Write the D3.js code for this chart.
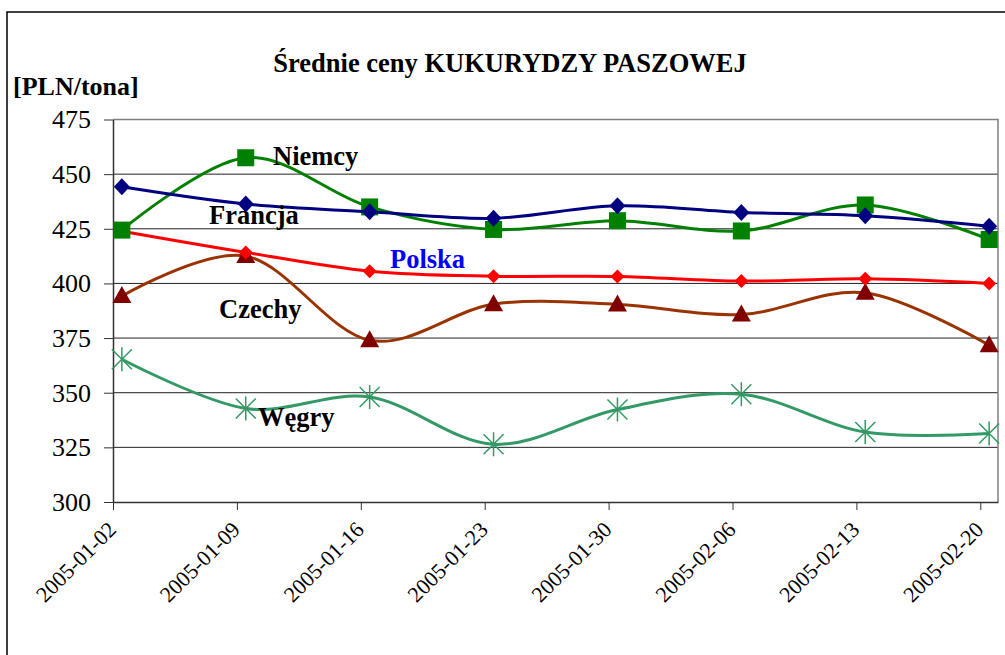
<!DOCTYPE html>
<html>
<head>
<meta charset="utf-8">
<script src="https://cdn.jsdelivr.net/npm/d3@7"></script>
<style>
  body { margin: 0; background: #fff; }
  text { font-family: "Liberation Serif", "Times New Roman", serif; }
</style>
</head>
<body>
<script>
// weekly dates
const dates = ["2005-01-02", "2005-01-09", "2005-01-16", "2005-01-23",
               "2005-01-30", "2005-02-06", "2005-02-13", "2005-02-20"];
const yTicks = [300, 325, 350, 375, 400, 425, 450, 475];

const francja = [444.2, 436.3, 432.8, 429.8, 435.5, 432.5, 431.0, 426.2];
const niemcy  = [424.4, 457.5, 435.0, 424.7, 428.7, 424.0, 435.9, 420.1];
const polska  = [423.9, 414.2, 405.6, 403.3, 403.2, 401.1, 402.1, 400.0];
const czechy  = [394.2, 412.5, 374.0, 390.5, 390.4, 385.8, 395.7, 371.7];
const wegry   = [365.3, 342.8, 348.0, 326.4, 342.3, 349.3, 332.0, 331.3];

const parse = d3.timeParse("%Y-%m-%d");
const fmt = d3.timeFormat("%Y-%m-%d");
const days = dates.map(parse);

const W = 1005, H = 655;
const pLeft = 113, pRight = 998, pTop = 119.5, pBottom = 502;

const svg = d3.select("body").append("svg")
  .attr("width", W).attr("height", H);

// outer frame
svg.append("path")
  .attr("d", `M7,${H} L7,12 L${W},12`)
  .attr("fill", "none").attr("stroke", "#000").attr("stroke-width", 1.5);

// date axis, one slot per day, points in the middle of their day
const x = d3.scaleTime()
  .domain([days[0], d3.timeDay.offset(days[days.length - 1], 1)])
  .range([pLeft, pRight]);
const mid = d => x(d3.timeHour.offset(d, 12));

const y = d3.scaleLinear().domain([300, 475]).range([pBottom, pTop]);

// gridlines
svg.append("g").selectAll("line")
  .data(yTicks.slice(1))
  .enter().append("line")
    .attr("x1", pLeft).attr("x2", pRight)
    .attr("y1", d => y(d)).attr("y2", d => y(d))
    .attr("stroke", "#222").attr("stroke-width", 1);

// plot border (top/right gray)
svg.append("path")
  .attr("d", `M${pLeft},${pTop} L${pRight},${pTop} L${pRight},${pBottom}`)
  .attr("fill", "none").attr("stroke", "#808080").attr("stroke-width", 1.5);

// y axis
const yAxis = svg.append("g")
  .attr("transform", `translate(${pLeft},0)`)
  .call(d3.axisLeft(y).tickValues(yTicks).tickSize(9).tickSizeOuter(0).tickPadding(13));
yAxis.attr("font-family", null);
yAxis.select(".domain").attr("stroke", "#333").attr("stroke-width", 1.5);
yAxis.selectAll(".tick line").attr("stroke", "#333");
yAxis.selectAll(".tick text")
  .attr("font-size", 26).attr("fill", "#000");

// x axis
const xAxis = svg.append("g")
  .attr("transform", `translate(0,${pBottom})`)
  .call(d3.axisBottom(x).tickValues(days).tickFormat(fmt).tickSize(8).tickSizeOuter(0));
xAxis.attr("font-family", null);
xAxis.select(".domain").attr("stroke", "#333").attr("stroke-width", 1.5);
xAxis.selectAll(".tick line").attr("stroke", "#333");
xAxis.selectAll(".tick text")
  .attr("font-size", 22).attr("fill", "#000")
  .attr("text-anchor", "end")
  .attr("dy", null).attr("y", 0)
  .attr("transform", "translate(4,29) rotate(-45)");

const series = [
  { name: "Francja", values: francja, line: "#000080", marker: "#000080", shape: "diamond" },
  { name: "Niemcy",  values: niemcy,  line: "#008000", marker: "#008000", shape: "square" },
  { name: "Polska",  values: polska,  line: "#ff0000", marker: "#ff0000", shape: "diamondSmall" },
  { name: "Czechy",  values: czechy,  line: "#993300", marker: "#800000", shape: "triangle" },
  { name: "Węgry",   values: wegry,   line: "#339966", marker: "#339966", shape: "star" }
];

const line = d3.line()
  .x((d, i) => mid(days[i]))
  .y(d => y(d))
  .curve(d3.curveCatmullRom.alpha(0));

const order = ["Węgry", "Czechy", "Polska", "Niemcy", "Francja"];
order.forEach(n => {
  const s = series.find(t => t.name === n);
  const g = svg.append("g");
  g.append("path")
    .attr("d", line(s.values))
    .attr("fill", "none").attr("stroke", s.line).attr("stroke-width", 3);

  const pts = g.selectAll("g.pt").data(s.values).enter().append("g")
    .attr("transform", (d, i) => `translate(${mid(days[i])},${y(d)})`);

  if (s.shape === "diamond") {
    pts.append("path").attr("d", "M0,-8.5 L8,0 L0,8.5 L-8,0Z").attr("fill", s.marker);
  } else if (s.shape === "diamondSmall") {
    pts.append("path").attr("d", "M0,-7 L7,0 L0,7 L-7,0Z").attr("fill", s.marker);
  } else if (s.shape === "square") {
    pts.append("rect").attr("x", -8.5).attr("y", -8.5).attr("width", 17).attr("height", 17).attr("fill", s.marker);
  } else if (s.shape === "triangle") {
    pts.append("path").attr("d", "M0,-10 L9.5,7 L-9.5,7Z").attr("fill", s.marker);
  } else {
    pts.append("path")
      .attr("d", "M-10,-10 L10,10 M-10,10 L10,-10 M0,-12 L0,12")
      .attr("stroke", s.marker).attr("stroke-width", 1.5).attr("fill", "none");
  }
});

// series labels
const labels = [
  { text: "Niemcy",  x: 273, y: 165, color: "#000" },
  { text: "Francja", x: 209, y: 224, color: "#000" },
  { text: "Polska",  x: 390, y: 268, color: "#0000ff" },
  { text: "Czechy",  x: 219, y: 318, color: "#000" },
  { text: "Węgry",   x: 258, y: 426, color: "#000" }
];
svg.selectAll("text.lbl").data(labels).enter().append("text")
  .attr("class", "lbl")
  .attr("x", d => d.x).attr("y", d => d.y)
  .attr("font-size", 26.5).attr("font-weight", "bold")
  .attr("fill", d => d.color)
  .text(d => d.text);

// title and unit
svg.append("text")
  .attr("x", 510).attr("y", 72).attr("text-anchor", "middle")
  .attr("font-size", 26.5).attr("font-weight", "bold")
  .text("Średnie ceny KUKURYDZY PASZOWEJ");
svg.append("text")
  .attr("x", 13).attr("y", 95)
  .attr("font-size", 26).attr("font-weight", "bold")
  .text("[PLN/tona]");
</script>
</body>
</html>
